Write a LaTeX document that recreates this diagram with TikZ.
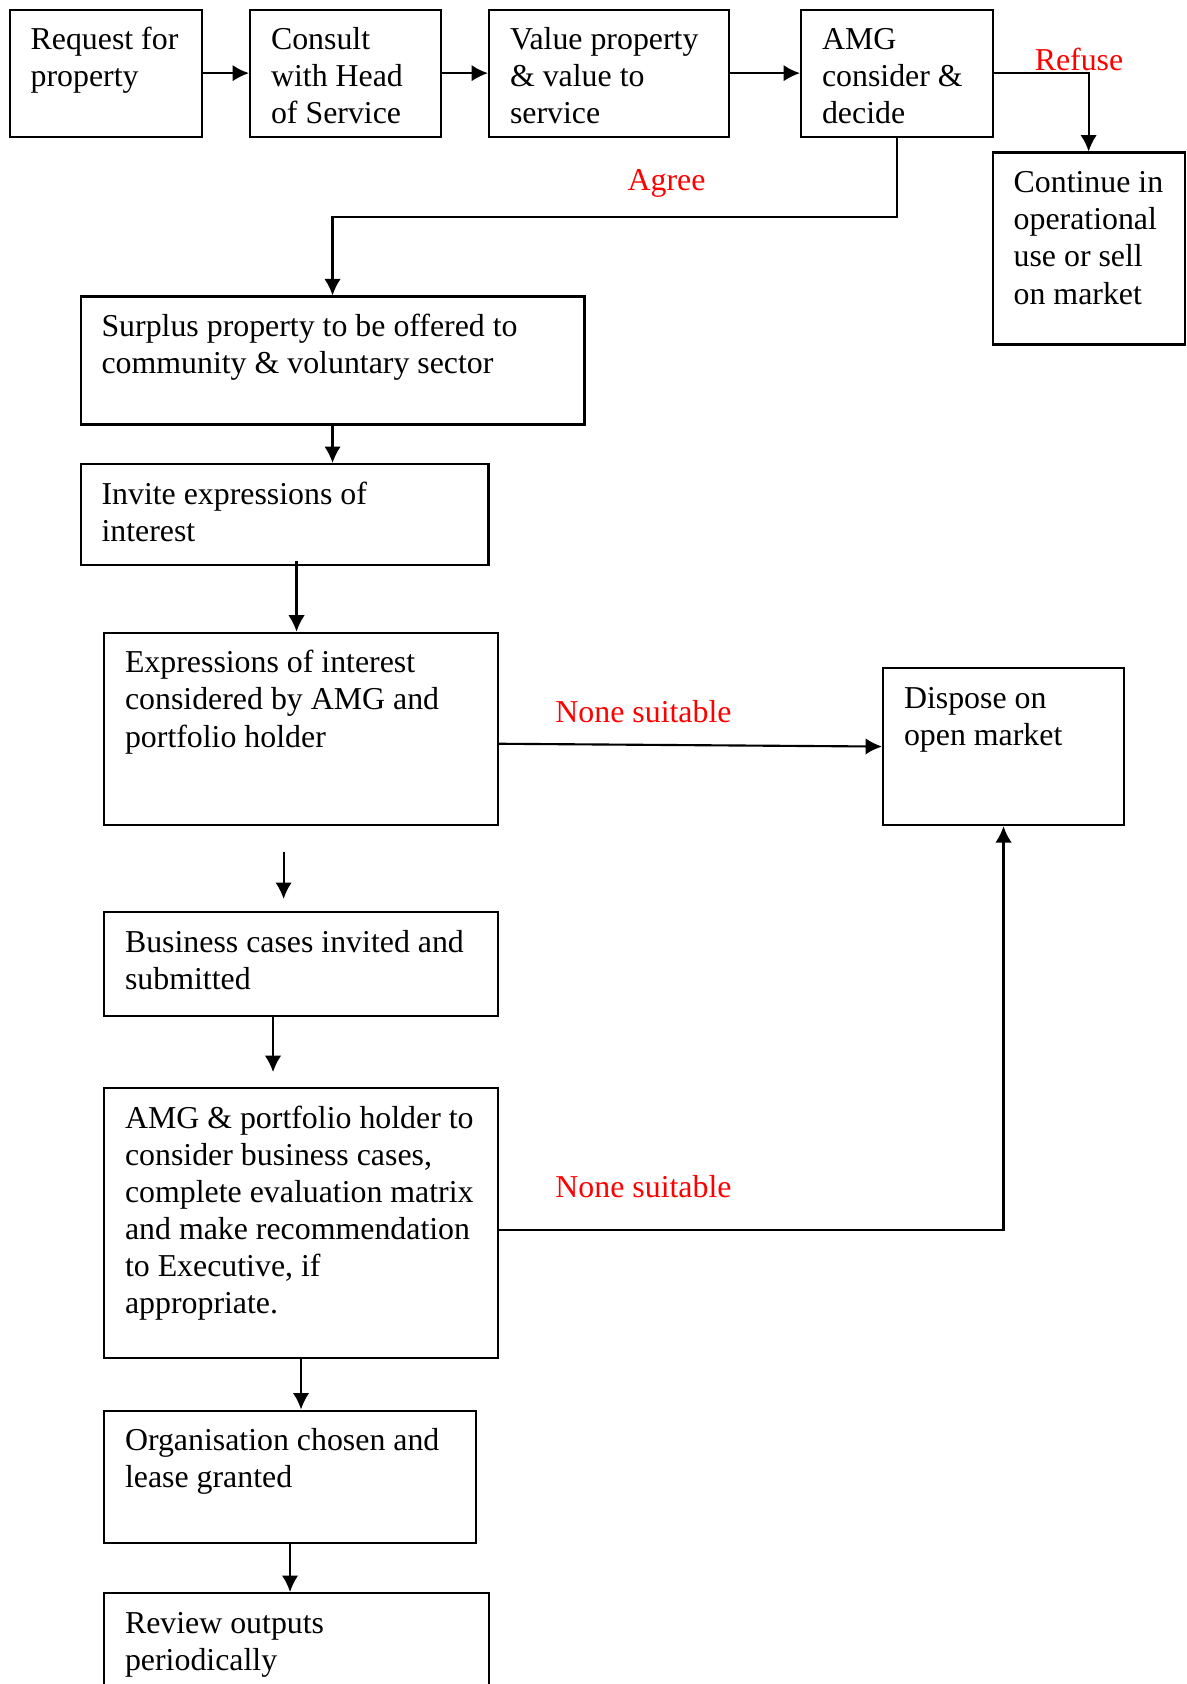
\documentclass[tikz,border=0pt]{standalone}
\usepackage{fontspec}
\setmainfont{Liberation Serif}
\usetikzlibrary{calc}
\usetikzlibrary{arrows.meta}

\newdimen\px
\px=0.3767pt
\newcommand{\boxtext}[3]{\parbox[c][\dimexpr#2\px-28\px\relax][t]{\dimexpr#1\px-42\px\relax}{\raggedright\strut #3}}

\tikzset{
  stage/.style={draw, line width=0.8pt, anchor=north west, inner xsep=7.9pt, inner ysep=5.27pt, font=\fontsize{12}{14}\selectfont},
  flow/.style={line width=0.8pt, -{Latex[length=6.2pt,width=6.2pt]}},
  choice/.style={red, font=\fontsize{12}{14}\selectfont}
}

\begin{document}
\begin{tikzpicture}[x=0.3767pt,y=-0.3767pt]
\useasboundingbox (0,0) rectangle (1186,1684);
\node[stage] (request) at (8.6,8.6) {\boxtext{192}{127}{Request for\\property}};
\node[stage] (consult) at (249,8.6) {\boxtext{191}{127}{Consult\\with Head\\of Service}};
\node[stage] (value) at (488,8.6) {\boxtext{240}{127}{Value property\\\& value to\\service}};
\node[stage] (amg) at (800,8.6) {\boxtext{192}{127}{AMG\\consider \&\\decide}};
\node[stage] (keep) at (991.6,151.5) {\boxtext{192}{192}{Continue in\\operational\\use or sell\\on market}};
\draw[flow] (request.east) -- (consult.west);
\draw[flow] (consult.east) -- (value.west);
\draw[flow] (value.east) -- (amg.west);
\draw[flow] (amg.east) -| (keep.north);
\node[choice] (refuse) at (1079,59) {Refuse};
\node[choice] (agree) at (666.6,183) {Agree};
\node[stage] (surplus) at (79.5,295.4) {\boxtext{504}{128}{Surplus property to be offered to\\community \& voluntary sector}};
\draw[flow] (amg.south) -- ++(0,79) -| (surplus.north);
\node[stage] (invite) at (79.5,463) {\boxtext{408}{101}{Invite expressions of\\interest}};
\draw[flow] (surplus.south) -- (surplus.south |- invite.north);
\node[stage] (expr) at (103,631.7) {\boxtext{394}{192}{Expressions of interest\\considered by AMG and\\portfolio holder}};
\draw[flow] ($(invite.south)+(12,-5)$) -- ($(invite.south |- expr.north)+(12,0)$);
\node[stage] (dispose) at (882,667) {\boxtext{241}{157}{Dispose on\\open market}};
\draw[flow] ($(expr.east)+(0,15)$) -- (dispose.west);
\node[choice] (none1) at (643.5,712) {None suitable};
\coordinate (gap) at (283.6,852);
\draw[flow] (gap) -- ++(0,47);
\node[stage] (cases) at (103,911) {\boxtext{394}{104}{Business cases invited and\\submitted}};
\node[stage] (decide) at (103,1087) {\boxtext{394}{270}{AMG \& portfolio holder to\\consider business cases,\\complete evaluation matrix\\and make recommendation\\to Executive, if\\appropriate.}};
\draw[flow] ($(cases.south)+(-28,0)$) -- ++(0,55);
\draw[flow] ($(decide.east)+(0,7)$) -| (dispose.south);
\node[choice] (none2) at (643.5,1187) {None suitable};
\node[stage] (lease) at (103,1409.5) {\boxtext{372}{132}{Organisation chosen and\\lease granted}};
\draw[flow] (decide.south) -- (decide.south |- lease.north);
\node[stage] (review) at (103,1592) {\boxtext{385}{140}{Review outputs\\periodically}};
\draw[flow] (lease.south) -- (lease.south |- review.north);
\end{tikzpicture}
\end{document}
